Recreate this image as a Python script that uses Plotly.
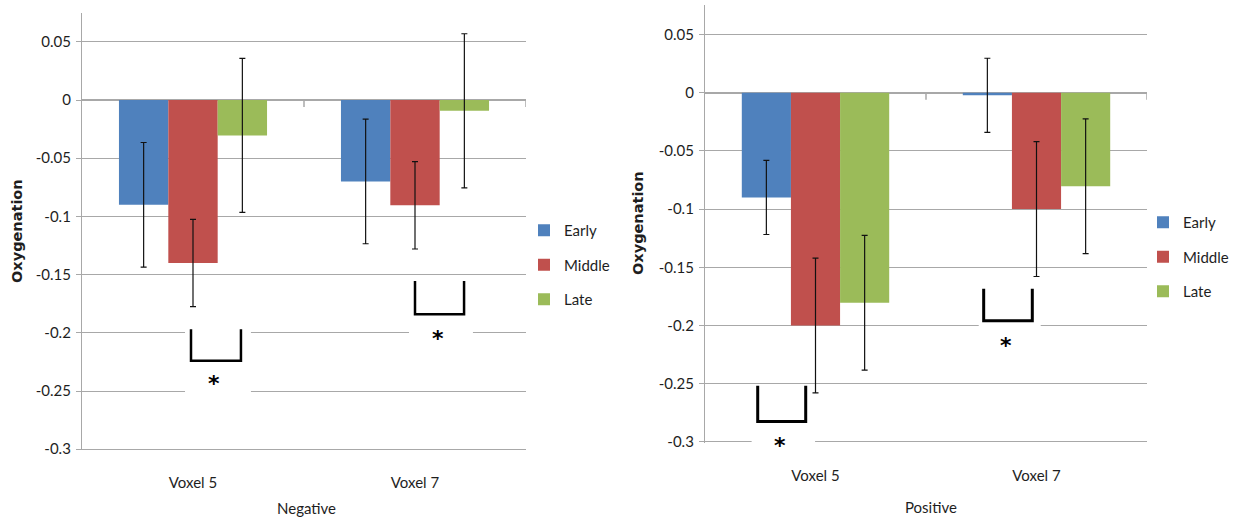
import plotly.graph_objects as go

categories = ["Voxel 5", "Voxel 7"]
series_names = ["Early", "Middle", "Late"]
colors = ["#4F81BD", "#C0504D", "#9BBB59"]

neg_early = [-0.09, -0.07]
neg_middle = [-0.14, -0.0905]
neg_late = [-0.0304, -0.0093]
neg_err_early = [0.0535, 0.0535]
neg_err_middle = [0.0375, 0.0375]
neg_err_late = [0.0662, 0.0662]

pos_early = [-0.09, -0.0022]
pos_middle = [-0.2, -0.1]
pos_late = [-0.1805, -0.0804]
pos_err_early = [0.0318, 0.0318]
pos_err_middle = [0.0579, 0.0579]
pos_err_late = [0.0579, 0.0579]

y_tickvals = [-0.3, -0.25, -0.2, -0.15, -0.1, -0.05, 0, 0.05]
y_ticktext = ["-0.3", "-0.25", "-0.2", "-0.15", "-0.1", "-0.05", "0", "0.05"]

FONT = "Lato, Liberation Sans, sans-serif"
TXT = "#1e1e1e"
GRID = "#a8a8a8"
W, H = 1240, 519

fig = go.Figure()

neg_vals = [neg_early, neg_middle, neg_late]
neg_errs = [neg_err_early, neg_err_middle, neg_err_late]
pos_vals = [pos_early, pos_middle, pos_late]
pos_errs = [pos_err_early, pos_err_middle, pos_err_late]

for i, name in enumerate(series_names):
    fig.add_trace(go.Bar(
        x=categories, y=neg_vals[i], name=name, marker_color=colors[i],
        marker_line_width=0,
        error_y=dict(type="data", array=neg_errs[i], color="#111111", thickness=1.2, width=3),
        xaxis="x", yaxis="y", legend="legend", legendgroup="n" + name,
    ))
for i, name in enumerate(series_names):
    fig.add_trace(go.Bar(
        x=categories, y=pos_vals[i], name=name, marker_color=colors[i],
        marker_line_width=0,
        error_y=dict(type="data", array=pos_errs[i], color="#111111", thickness=1.2, width=3),
        xaxis="x2", yaxis="y2", legend="legend2", legendgroup="p" + name,
    ))

def px_x(p):
    return p / W

def px_y(p):
    return 1 - p / H

YMIN = -0.301
yaxis_common = dict(
    range=[YMIN, 0.075], tickvals=y_tickvals, ticktext=y_ticktext,
    showgrid=True, gridcolor=GRID, gridwidth=1.3,
    zeroline=True, zerolinecolor=GRID, zerolinewidth=1.6,
    showline=True, linecolor=GRID, linewidth=1.3,
    ticks="outside", ticklen=5, tickcolor=GRID,
    tickfont=dict(family=FONT, size=15, color=TXT),
    ticklabelstandoff=2, automargin=False,
)
xaxis_common = dict(
    range=[-0.5, 1.5], showgrid=False, zeroline=False, showline=False, ticks="",
    tickfont=dict(family=FONT, size=15, color=TXT),
    ticklabelstandoff=22, automargin=False,
)

# pixel geometry: 1164 px per 1.0 of oxygenation
U = 1164.0
left_zero, right_zero = 100.0, 92.7

fig.update_layout(
    template="none",
    width=W, height=H,
    margin=dict(l=0, r=0, t=0, b=0, pad=0),
    paper_bgcolor="white", plot_bgcolor="white",
    barmode="group", bargap=0.333, bargroupgap=0,
    xaxis=dict(domain=[px_x(82), px_x(526)], anchor="y", **xaxis_common),
    yaxis=dict(domain=[px_y(left_zero - YMIN * U), px_y(left_zero - 0.075 * U)], anchor="x", **yaxis_common),
    xaxis2=dict(domain=[px_x(705), px_x(1147)], anchor="y2", **xaxis_common),
    yaxis2=dict(domain=[px_y(right_zero - YMIN * U), px_y(right_zero - 0.075 * U)], anchor="x2", **yaxis_common),
    legend=dict(x=px_x(524), y=px_y(214), xanchor="left", yanchor="top",
                font=dict(family=FONT, size=15, color=TXT),
                tracegroupgap=12, itemwidth=30, bgcolor="rgba(0,0,0,0)"),
    legend2=dict(x=px_x(1143), y=px_y(206), xanchor="left", yanchor="top",
                 font=dict(family=FONT, size=15, color=TXT),
                 tracegroupgap=12, itemwidth=30, bgcolor="rgba(0,0,0,0)"),
    showlegend=True,
)

shapes = []
# category axis tick marks below zero line
for xr, yr in (("x", "y"), ("x2", "y2")):
    for xv in (0.5, 1.5):
        shapes.append(dict(type="line", xref=xr, yref=yr, x0=xv, x1=xv, y0=0, y1=-0.006,
                           line=dict(color=GRID, width=1.5)))

# white masks behind significance markers
masks = [
    ("x", "y", -0.036, 0.261, -0.19, -0.258),
    ("x", "y", 0.973, 1.261, -0.19, -0.212),
    ("x2", "y2", -0.289, -0.002, -0.29, -0.302),
    ("x2", "y2", 0.7385, 1.019, -0.19, -0.21),
]
for xr, yr, x0, x1, y0, y1 in masks:
    shapes.append(dict(type="rect", xref=xr, yref=yr, x0=x0, x1=x1, y0=y0, y1=y1,
                       fillcolor="white", line=dict(width=0), layer="between"))

# significance brackets
brackets = [
    ("x", "y", -0.009, 0.216, -0.197, -0.224, 2.5),
    ("x", "y", 1.0, 1.221, -0.1555, -0.184, 2.5),
    ("x2", "y2", -0.2615, -0.0443, -0.2518, -0.2824, 3),
    ("x2", "y2", 0.761, 0.981, -0.1685, -0.196, 3),
]
for xr, yr, x0, x1, yt, yb, lw in brackets:
    shapes.append(dict(type="path", xref=xr, yref=yr,
                       path=f"M {x0},{yt} L {x0},{yb} L {x1},{yb} L {x1},{yt}",
                       line=dict(color="black", width=lw)))
fig.update_layout(shapes=shapes)

annotations = []
# (xref, yref, x, y, extra pixel shift)
stars = [
    ("x", "y", 0.096, -0.2405, 0),
    ("x", "y", 1.102, -0.2016, 0),
    ("x2", "y2", -0.161, -0.29, -11),
    ("x2", "y2", 0.862, -0.2137, 0),
]
for xr, yr, xv, yv, sh in stars:
    annotations.append(dict(xref=xr, yref=yr, x=xv, y=yv, text="<b>*</b>", showarrow=False,
                            xanchor="center", yanchor="middle",
                            font=dict(family="DejaVu Sans", size=22, color="black"),
                            yshift=-4 + sh))

# axis titles
annotations.append(dict(xref="paper", yref="paper", x=px_x(306), y=px_y(508), text="Negative",
                        xanchor="center", yanchor="middle",
                        showarrow=False, font=dict(family=FONT, size=15, color=TXT)))
annotations.append(dict(xref="paper", yref="paper", x=px_x(931), y=px_y(507), text="Positive",
                        xanchor="center", yanchor="middle",
                        showarrow=False, font=dict(family=FONT, size=15, color=TXT)))
annotations.append(dict(xref="paper", yref="paper", x=px_x(17), y=px_y(231), text="<b>Oxygenation</b>",
                        textangle=-90, showarrow=False, xanchor="center", yanchor="middle",
                        font=dict(family="DejaVu Sans", size=14.5, color=TXT)))
annotations.append(dict(xref="paper", yref="paper", x=px_x(638), y=px_y(223), text="<b>Oxygenation</b>",
                        textangle=-90, showarrow=False, xanchor="center", yanchor="middle",
                        font=dict(family="DejaVu Sans", size=14.5, color=TXT)))
fig.update_layout(annotations=annotations)

fig.write_html("out.html",
               config={"displayModeBar": False},
               post_script="document.body.style.margin='0px';document.body.style.padding='0px';"
                           "document.body.style.overflow='hidden';")
